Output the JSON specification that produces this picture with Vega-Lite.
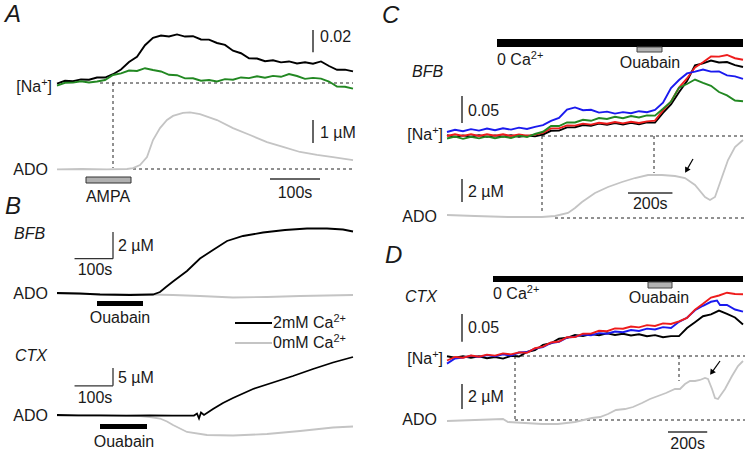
{
"$schema":"https://vega.github.io/schema/vega-lite/v6.json",
"background":"white",
"padding":0,
"spacing":0,
"config":{"view":{"stroke":null},"concat":{"spacing":0},"text":{"font":"Liberation Sans","fontSize":16,"color":"#1a1a1a","baseline":"middle"}},
"hconcat":[
{"vconcat":[
{"width":375,"height":200,"resolve":{"scale":{"y":"independent"}},
"layer":[
{"encoding":{"x":{"field":"t","type":"quantitative","scale":{"domain":[-114,636],"nice":false,"zero":false},"axis":null},"y":{"field":"v","type":"quantitative","scale":{"domain":[-0.1053,0.0747],"nice":false,"zero":false},"axis":null}},
"layer":[
{"data":{"values":[{"t":86,"v":0,"t2":592,"v2":0},{"t":112,"v":0,"t2":112,"v2":-0.0765}]},"mark":{"type":"rule","strokeDash":[3,3],"color":"#222","strokeWidth":1},"encoding":{"x2":{"field":"t2"},"y2":{"field":"v2"}}},
{"data":{"values":[{"t":0,"v":-0.0005},{"t":16,"v":0.002},{"t":32,"v":0.0016},{"t":48,"v":0.0032},{"t":64,"v":0.0029},{"t":80,"v":0.0049},{"t":96,"v":0.0049},{"t":112,"v":0.0079},{"t":128,"v":0.0122},{"t":144,"v":0.0189},{"t":160,"v":0.0236},{"t":176,"v":0.034},{"t":192,"v":0.0407},{"t":208,"v":0.0427},{"t":224,"v":0.0419},{"t":240,"v":0.0437},{"t":256,"v":0.0418},{"t":272,"v":0.0421},{"t":288,"v":0.0392},{"t":304,"v":0.039},{"t":320,"v":0.036},{"t":336,"v":0.0343},{"t":352,"v":0.0291},{"t":368,"v":0.0268},{"t":384,"v":0.0223},{"t":400,"v":0.022},{"t":416,"v":0.0196},{"t":432,"v":0.0205},{"t":448,"v":0.0186},{"t":464,"v":0.0194},{"t":480,"v":0.0176},{"t":496,"v":0.0187},{"t":512,"v":0.0173},{"t":528,"v":0.0194},{"t":544,"v":0.0153},{"t":560,"v":0.0119},{"t":576,"v":0.012},{"t":592,"v":0.0104}]},"mark":{"type":"line","color":"#000000","strokeWidth":1.9}},
{"data":{"values":[{"t":0,"v":-0.0023},{"t":16,"v":0.0002},{"t":32,"v":0.0003},{"t":48,"v":0.0015},{"t":64,"v":0.0004},{"t":80,"v":0.0014},{"t":96,"v":0.0027},{"t":112,"v":0.0072},{"t":128,"v":0.0086},{"t":144,"v":0.0112},{"t":160,"v":0.0108},{"t":176,"v":0.0133},{"t":192,"v":0.0117},{"t":208,"v":0.0104},{"t":224,"v":0.0074},{"t":240,"v":0.007},{"t":256,"v":0.0042},{"t":272,"v":0.0043},{"t":288,"v":0.002},{"t":304,"v":0.0027},{"t":320,"v":0.0014},{"t":336,"v":0.0035},{"t":352,"v":0.003},{"t":368,"v":0.005},{"t":384,"v":0.0044},{"t":400,"v":0.006},{"t":416,"v":0.0048},{"t":432,"v":0.0064},{"t":448,"v":0.0056},{"t":464,"v":0.008},{"t":480,"v":0.0063},{"t":496,"v":0.0037},{"t":512,"v":0.0046},{"t":528,"v":0.0039},{"t":544,"v":0.0013},{"t":560,"v":-0.0032},{"t":576,"v":-0.0034},{"t":592,"v":-0.005}]},"mark":{"type":"line","color":"#228822","strokeWidth":1.9}},
{"data":{"values":[{"t":512,"v":0.0477,"t2":512,"v2":0.0277}]},"mark":{"type":"rule","color":"#333","strokeWidth":1.5},"encoding":{"x2":{"field":"t2"},"y2":{"field":"v2"}}},
{"data":{"values":[{"t":526,"v":0.0414,"label":"0.02"}]},"mark":{"type":"text","align":"left"},"encoding":{"text":{"field":"label"}}},
{"data":{"values":[{"t":-31.6,"v":-0.0036,"label":"[Na"},{"t":-10,"v":-0.0036,"label":"]"}]},"mark":{"type":"text","align":"right"},"encoding":{"text":{"field":"label"}}},
{"data":{"values":[{"t":-18.8,"v":-0.0036,"label":"+"}]},"mark":{"type":"text","align":"right","fontSize":11,"dy":-4},"encoding":{"text":{"field":"label"}}},
{"data":{"values":[{"t":-104,"v":0.0612,"label":"A"}]},"mark":{"type":"text","align":"left","fontSize":24,"fontStyle":"italic"},"encoding":{"text":{"field":"label"}}}
]},
{"encoding":{"x":{"field":"t","type":"quantitative","scale":{"domain":[-114,636],"nice":false,"zero":false},"axis":null},"y":{"field":"v","type":"quantitative","scale":{"domain":[-1.3485,7.3515],"nice":false,"zero":false},"axis":null}},
"layer":[
{"data":{"values":[{"t":152,"v":0,"t2":592,"v2":0}]},"mark":{"type":"rule","strokeDash":[3,3],"color":"#222","strokeWidth":1},"encoding":{"x2":{"field":"t2"},"y2":{"field":"v2"}}},
{"data":{"values":[{"t":0,"v":-0.02},{"t":50,"v":0},{"t":100,"v":-0.02},{"t":140,"v":0},{"t":152,"v":0.04},{"t":166,"v":0.17},{"t":180,"v":0.52},{"t":192,"v":1.26},{"t":206,"v":1.78},{"t":220,"v":2.13},{"t":232,"v":2.31},{"t":252,"v":2.44},{"t":266,"v":2.46},{"t":286,"v":2.39},{"t":320,"v":2.13},{"t":352,"v":1.78},{"t":386,"v":1.48},{"t":420,"v":1.17},{"t":452,"v":0.96},{"t":486,"v":0.74},{"t":520,"v":0.61},{"t":552,"v":0.52},{"t":592,"v":0.39}]},"mark":{"type":"line","color":"#c4c4c4","strokeWidth":1.8}},
{"data":{"values":[{"t":512,"v":2.13,"t2":512,"v2":1.13},{"t":426,"v":-0.435,"t2":526,"v2":-0.435}]},"mark":{"type":"rule","color":"#333","strokeWidth":1.5},"encoding":{"x2":{"field":"t2"},"y2":{"field":"v2"}}},
{"data":{"values":[{"t":58,"t2":148,"v":-0.348,"v2":-0.609}]},"mark":{"type":"rect","fill":"#b0b0b0","stroke":"#333","strokeWidth":1},"encoding":{"x2":{"field":"t2"},"y2":{"field":"v2"}}},
{"data":{"values":[{"t":526,"v":1.566,"label":"1 µM"}]},"mark":{"type":"text","align":"left"},"encoding":{"text":{"field":"label"}}},
{"data":{"values":[{"t":102,"v":-1.218,"label":"AMPA"},{"t":476,"v":-1.044,"label":"100s"}]},"mark":{"type":"text","align":"center"},"encoding":{"text":{"field":"label"}}},
{"data":{"values":[{"t":-18,"v":-0.0435,"label":"ADO"}]},"mark":{"type":"text","align":"right"},"encoding":{"text":{"field":"label"}}}
]}
]},
{"width":375,"height":253,"resolve":{"scale":{"y":"independent"}},
"layer":[
{"encoding":{"x":{"field":"t","type":"quantitative","scale":{"domain":[-148.2,826.8],"nice":false,"zero":false},"axis":null},"y":{"field":"v","type":"quantitative","scale":{"domain":[-11.925,7.05],"nice":false,"zero":false},"axis":null}},
"layer":[
{"data":{"values":[{"t":0,"v":0.0375},{"t":111.8,"v":-0.02},{"t":241.8,"v":-0.0375},{"t":301.6,"v":-0.075},{"t":371.8,"v":-0.15},{"t":457.6,"v":-0.2625},{"t":546,"v":-0.225},{"t":631.8,"v":-0.15},{"t":769.6,"v":-0.075}]},"mark":{"type":"line","color":"#c4c4c4","strokeWidth":1.8}},
{"data":{"values":[{"t":0,"v":0.075},{"t":59.8,"v":0.0375},{"t":111.8,"v":-0.0375},{"t":189.8,"v":-0.075},{"t":249.6,"v":-0.0375},{"t":267.8,"v":0.15},{"t":283.4,"v":0.525},{"t":301.6,"v":0.9375},{"t":338,"v":1.725},{"t":371.8,"v":2.6625},{"t":405.6,"v":3.3},{"t":442,"v":3.975},{"t":483.6,"v":4.35},{"t":535.6,"v":4.6125},{"t":592.8,"v":4.8},{"t":650,"v":4.9125},{"t":702,"v":4.9125},{"t":743.6,"v":4.8375},{"t":769.6,"v":4.6875}]},"mark":{"type":"line","color":"#000000","strokeWidth":1.8}},
{"data":{"values":[{"t":145.6,"v":4.65,"t2":145.6,"v2":2.65},{"t":45.6,"v":2.65,"t2":145.6,"v2":2.65}]},"mark":{"type":"rule","color":"#333","strokeWidth":1.3},"encoding":{"x2":{"field":"t2"},"y2":{"field":"v2"}}},
{"data":{"values":[{"t":462.8,"v":-2.175,"t2":559,"v2":-2.175}]},"mark":{"type":"rule","color":"#000000","strokeWidth":2},"encoding":{"x2":{"field":"t2"},"y2":{"field":"v2"}}},
{"data":{"values":[{"t":462.8,"v":-3.675,"t2":559,"v2":-3.675}]},"mark":{"type":"rule","color":"#c4c4c4","strokeWidth":2},"encoding":{"x2":{"field":"t2"},"y2":{"field":"v2"}}},
{"data":{"values":[{"t":104,"t2":223.6,"v":-0.525,"v2":-0.9}]},"mark":{"type":"rect","fill":"#000000"},"encoding":{"x2":{"field":"t2"},"y2":{"field":"v2"}}},
{"data":{"values":[{"t":158.6,"v":3.6,"label":"2 µM"},{"t":561.6,"v":-2.175,"label":"2mM Ca"},{"t":561.6,"v":-3.675,"label":"0mM Ca"}]},"mark":{"type":"text","align":"left"},"encoding":{"text":{"field":"label"}}},
{"data":{"values":[{"t":718.6,"v":-2.175,"label":"2+"},{"t":718.6,"v":-3.675,"label":"2+"}]},"mark":{"type":"text","align":"left","fontSize":11,"dy":-4},"encoding":{"text":{"field":"label"}}},
{"data":{"values":[{"t":98.8,"v":1.8,"label":"100s"},{"t":163.8,"v":-1.8,"label":"Ouabain"}]},"mark":{"type":"text","align":"center"},"encoding":{"text":{"field":"label"}}},
{"data":{"values":[{"t":-23.4,"v":0,"label":"ADO"}]},"mark":{"type":"text","align":"right"},"encoding":{"text":{"field":"label"}}},
{"data":{"values":[{"t":-111.8,"v":4.5,"label":"BFB"}]},"mark":{"type":"text","align":"left","fontStyle":"italic"},"encoding":{"text":{"field":"label"}}},
{"data":{"values":[{"t":-135.2,"v":6.525,"label":"B"}]},"mark":{"type":"text","align":"left","fontSize":24,"fontStyle":"italic"},"encoding":{"text":{"field":"label"}}}
]},
{"encoding":{"x":{"field":"t","type":"quantitative","scale":{"domain":[-148.2,826.8],"nice":false,"zero":false},"axis":null},"y":{"field":"v","type":"quantitative","scale":{"domain":[-10.64,60.2],"nice":false,"zero":false},"axis":null}},
"layer":[
{"data":{"values":[{"t":0,"v":-0.14},{"t":215.8,"v":-0.28},{"t":241.8,"v":-0.56},{"t":267.8,"v":-0.98},{"t":286,"v":-1.82},{"t":301.6,"v":-2.8},{"t":338,"v":-4.76},{"t":390,"v":-5.6},{"t":457.6,"v":-5.74},{"t":546,"v":-5.32},{"t":631.8,"v":-4.48},{"t":717.6,"v":-3.5},{"t":769.6,"v":-3.22}]},"mark":{"type":"line","color":"#c4c4c4","strokeWidth":1.8}},
{"data":{"values":[{"t":0,"v":0},{"t":55,"v":-0.1},{"t":111.8,"v":-0.084},{"t":180,"v":-0.2},{"t":241.8,"v":-0.14},{"t":300,"v":-0.2},{"t":356.2,"v":-0.14},{"t":364,"v":0.42},{"t":369.2,"v":-0.98},{"t":374.4,"v":0.7},{"t":382.2,"v":0},{"t":405.6,"v":1.68},{"t":431.6,"v":3.36},{"t":457.6,"v":4.76},{"t":509.6,"v":7.28},{"t":561.6,"v":9.1},{"t":613.6,"v":10.92},{"t":665.6,"v":12.88},{"t":717.6,"v":14.7},{"t":769.6,"v":16.24}]},"mark":{"type":"line","color":"#000000","strokeWidth":1.8}},
{"data":{"values":[{"t":145.6,"v":13.16,"t2":145.6,"v2":8.16},{"t":45.6,"v":8.16,"t2":145.6,"v2":8.16}]},"mark":{"type":"rule","color":"#333","strokeWidth":1.3},"encoding":{"x2":{"field":"t2"},"y2":{"field":"v2"}}},
{"data":{"values":[{"t":111.8,"t2":234,"v":-2.52,"v2":-3.92}]},"mark":{"type":"rect","fill":"#000000"},"encoding":{"x2":{"field":"t2"},"y2":{"field":"v2"}}},
{"data":{"values":[{"t":158.6,"v":10.36,"label":"5 µM"}]},"mark":{"type":"text","align":"left"},"encoding":{"text":{"field":"label"}}},
{"data":{"values":[{"t":98.8,"v":4.76,"label":"100s"},{"t":174.2,"v":-7.56,"label":"Ouabain"}]},"mark":{"type":"text","align":"center"},"encoding":{"text":{"field":"label"}}},
{"data":{"values":[{"t":-23.4,"v":-0.28,"label":"ADO"}]},"mark":{"type":"text","align":"right"},"encoding":{"text":{"field":"label"}}},
{"data":{"values":[{"t":-109.2,"v":16.52,"label":"CTX"}]},"mark":{"type":"text","align":"left","fontStyle":"italic"},"encoding":{"text":{"field":"label"}}}
]}
]}
],"spacing":0,"bounds":"flush"},
{"vconcat":[
{"width":375,"height":226,"resolve":{"scale":{"y":"independent"}},
"layer":[
{"encoding":{"x":{"field":"t","type":"quantitative","scale":{"domain":[-324,1363.5],"nice":false,"zero":false},"axis":null},"y":{"field":"v","type":"quantitative","scale":{"domain":[-0.1665,0.2516],"nice":false,"zero":false},"axis":null}},
"layer":[
{"data":{"values":[{"t":427.5,"v":0,"t2":1341,"v2":0},{"t":427.5,"v":0,"t2":427.5,"v2":-0.1406},{"t":931.5,"v":0,"t2":931.5,"v2":-0.0685}]},"mark":{"type":"rule","strokeDash":[3,3],"color":"#222","strokeWidth":1},"encoding":{"x2":{"field":"t2"},"y2":{"field":"v2"}}},
{"data":{"values":[{"t":0,"v":0.0015},{"t":36,"v":-0.0015},{"t":72,"v":0.0011},{"t":108,"v":-0.0011},{"t":144,"v":0.0015},{"t":180,"v":-0.0015},{"t":216,"v":0.0011},{"t":252,"v":-0.0011},{"t":288,"v":0.0015},{"t":324,"v":-0.0015},{"t":360,"v":0.0007},{"t":396,"v":-0.0007},{"t":432,"v":0.0028},{"t":468,"v":0.0096},{"t":504,"v":0.01},{"t":540,"v":0.0159},{"t":576,"v":0.0163},{"t":612,"v":0.0204},{"t":648,"v":0.0189},{"t":684,"v":0.0229},{"t":720,"v":0.0207},{"t":756,"v":0.0241},{"t":792,"v":0.0213},{"t":828,"v":0.0244},{"t":864,"v":0.0218},{"t":900,"v":0.0252},{"t":936,"v":0.0248},{"t":972,"v":0.0426},{"t":1008,"v":0.0583},{"t":1044,"v":0.081},{"t":1080,"v":0.1018},{"t":1116,"v":0.1308},{"t":1152,"v":0.1343},{"t":1188,"v":0.1397},{"t":1224,"v":0.136},{"t":1260,"v":0.1369},{"t":1296,"v":0.131},{"t":1332,"v":0.1277}]},"mark":{"type":"line","color":"#000000","strokeWidth":1.9}},
{"data":{"values":[{"t":0,"v":0},{"t":36,"v":0.0033},{"t":72,"v":0.0002},{"t":108,"v":0.0035},{"t":144,"v":0},{"t":180,"v":0.0031},{"t":216,"v":0.0004},{"t":252,"v":0.0033},{"t":288,"v":0},{"t":324,"v":0.003},{"t":360,"v":0.0004},{"t":396,"v":0.0026},{"t":432,"v":0.0059},{"t":468,"v":0.0141},{"t":504,"v":0.0141},{"t":540,"v":0.0196},{"t":576,"v":0.0192},{"t":612,"v":0.0229},{"t":648,"v":0.0211},{"t":684,"v":0.0244},{"t":720,"v":0.0228},{"t":756,"v":0.0259},{"t":792,"v":0.0233},{"t":828,"v":0.0263},{"t":864,"v":0.0241},{"t":900,"v":0.027},{"t":936,"v":0.0285},{"t":972,"v":0.0472},{"t":1008,"v":0.0638},{"t":1044,"v":0.0894},{"t":1080,"v":0.1064},{"t":1116,"v":0.1267},{"t":1152,"v":0.1365},{"t":1188,"v":0.1471},{"t":1224,"v":0.1469},{"t":1260,"v":0.1499},{"t":1296,"v":0.1439},{"t":1332,"v":0.141}]},"mark":{"type":"line","color":"#ee1c1c","strokeWidth":1.9}},
{"data":{"values":[{"t":0,"v":0.0074},{"t":36,"v":0.0115},{"t":72,"v":0.0089},{"t":108,"v":0.0126},{"t":144,"v":0.01},{"t":180,"v":0.0137},{"t":216,"v":0.0107},{"t":252,"v":0.0144},{"t":288,"v":0.0118},{"t":324,"v":0.0155},{"t":360,"v":0.013},{"t":396,"v":0.017},{"t":432,"v":0.02},{"t":468,"v":0.0278},{"t":504,"v":0.0333},{"t":540,"v":0.0488},{"t":576,"v":0.0529},{"t":612,"v":0.0477},{"t":648,"v":0.0485},{"t":684,"v":0.0433},{"t":720,"v":0.0451},{"t":756,"v":0.0414},{"t":792,"v":0.0442},{"t":828,"v":0.0422},{"t":864,"v":0.0459},{"t":900,"v":0.044},{"t":936,"v":0.0481},{"t":972,"v":0.0618},{"t":1008,"v":0.0888},{"t":1044,"v":0.1036},{"t":1080,"v":0.1158},{"t":1116,"v":0.1191},{"t":1152,"v":0.123},{"t":1188,"v":0.1191},{"t":1224,"v":0.1195},{"t":1260,"v":0.1121},{"t":1296,"v":0.1103},{"t":1332,"v":0.1058}]},"mark":{"type":"line","color":"#1a1aee","strokeWidth":1.9}},
{"data":{"values":[{"t":0,"v":-0.0046},{"t":36,"v":-0.0009},{"t":72,"v":-0.0052},{"t":108,"v":-0.0015},{"t":144,"v":-0.0044},{"t":180,"v":-0.0007},{"t":216,"v":-0.0041},{"t":252,"v":-0.0011},{"t":288,"v":-0.0037},{"t":324,"v":0.0007},{"t":360,"v":-0.0019},{"t":396,"v":0.0037},{"t":432,"v":0.0078},{"t":468,"v":0.0185},{"t":504,"v":0.0185},{"t":540,"v":0.0252},{"t":576,"v":0.025},{"t":612,"v":0.03},{"t":648,"v":0.0281},{"t":684,"v":0.0333},{"t":720,"v":0.0315},{"t":756,"v":0.0355},{"t":792,"v":0.0329},{"t":828,"v":0.037},{"t":864,"v":0.0342},{"t":900,"v":0.0381},{"t":936,"v":0.0377},{"t":972,"v":0.0503},{"t":1008,"v":0.0636},{"t":1044,"v":0.0895},{"t":1080,"v":0.0962},{"t":1116,"v":0.1045},{"t":1152,"v":0.0984},{"t":1188,"v":0.0929},{"t":1224,"v":0.0814},{"t":1260,"v":0.0751},{"t":1296,"v":0.0657},{"t":1332,"v":0.0644}]},"mark":{"type":"line","color":"#228822","strokeWidth":1.9}},
{"data":{"values":[{"t":225,"t2":1332,"v":0.1795,"v2":0.1647}]},"mark":{"type":"rect","fill":"#000000"},"encoding":{"x2":{"field":"t2"},"y2":{"field":"v2"}}},
{"data":{"values":[{"t":855,"t2":967.5,"v":0.1647,"v2":0.1554}]},"mark":{"type":"rect","fill":"#b3b3b3","stroke":"#444","strokeWidth":1},"encoding":{"x2":{"field":"t2"},"y2":{"field":"v2"}}},
{"data":{"values":[{"t":67.5,"v":0.074,"t2":67.5,"v2":0.024}]},"mark":{"type":"rule","color":"#333","strokeWidth":1.5},"encoding":{"x2":{"field":"t2"},"y2":{"field":"v2"}}},
{"data":{"values":[{"t":225,"v":0.1406,"label":"0 Ca"},{"t":94.5,"v":0.0463,"label":"0.05"}]},"mark":{"type":"text","align":"left"},"encoding":{"text":{"field":"label"}}},
{"data":{"values":[{"t":377.1,"v":0.1406,"label":"2+"}]},"mark":{"type":"text","align":"left","fontSize":11,"dy":-4},"encoding":{"text":{"field":"label"}}},
{"data":{"values":[{"t":913.5,"v":0.1351,"label":"Ouabain"}]},"mark":{"type":"text","align":"center"},"encoding":{"text":{"field":"label"}}},
{"data":{"values":[{"t":-66.6,"v":0.0019,"label":"[Na"},{"t":-18,"v":0.0019,"label":"]"}]},"mark":{"type":"text","align":"right"},"encoding":{"text":{"field":"label"}}},
{"data":{"values":[{"t":-37.8,"v":0.0019,"label":"+"}]},"mark":{"type":"text","align":"right","fontSize":11,"dy":-4},"encoding":{"text":{"field":"label"}}},
{"data":{"values":[{"t":-157.5,"v":0.1184,"label":"BFB"}]},"mark":{"type":"text","align":"left","fontStyle":"italic"},"encoding":{"text":{"field":"label"}}},
{"data":{"values":[{"t":-292.5,"v":0.222,"label":"C"}]},"mark":{"type":"text","align":"left","fontSize":24,"fontStyle":"italic"},"encoding":{"text":{"field":"label"}}}
]},
{"encoding":{"x":{"field":"t","type":"quantitative","scale":{"domain":[-324,1363.5],"nice":false,"zero":false},"axis":null},"y":{"field":"v","type":"quantitative","scale":{"domain":[-0.696,18.966],"nice":false,"zero":false},"axis":null}},
"layer":[
{"data":{"values":[{"t":486,"v":0,"t2":1341,"v2":0}]},"mark":{"type":"rule","strokeDash":[3,3],"color":"#222","strokeWidth":1},"encoding":{"x2":{"field":"t2"},"y2":{"field":"v2"}}},
{"data":{"values":[{"t":0,"v":0.261},{"t":126,"v":0.174},{"t":274.5,"v":0.087},{"t":427.5,"v":0.087},{"t":486,"v":0.174},{"t":544.5,"v":0.435},{"t":576,"v":0.87},{"t":607.5,"v":1.392},{"t":666,"v":2.175},{"t":724.5,"v":2.697},{"t":787.5,"v":3.132},{"t":846,"v":3.48},{"t":904.5,"v":3.741},{"t":967.5,"v":3.741},{"t":1026,"v":3.654},{"t":1071,"v":3.48},{"t":1116,"v":2.871},{"t":1161,"v":1.827},{"t":1183.5,"v":1.566},{"t":1206,"v":1.827},{"t":1237.5,"v":3.567},{"t":1264.5,"v":5.046},{"t":1296,"v":6.177},{"t":1332,"v":6.786}]},"mark":{"type":"line","color":"#c4c4c4","strokeWidth":1.8}},
{"data":{"values":[{"t":67.5,"v":3.393,"t2":67.5,"v2":1.393},{"t":814.5,"v":2.175,"t2":1014.5,"v2":2.175}]},"mark":{"type":"rule","color":"#333","strokeWidth":1.5},"encoding":{"x2":{"field":"t2"},"y2":{"field":"v2"}}},
{"data":{"values":[{"t":1107,"v":5.133,"t2":1077.75,"v2":4.141}]},"mark":{"type":"rule","color":"#000","strokeWidth":1.2},"encoding":{"x2":{"field":"t2"},"y2":{"field":"v2"}}},
{"data":{"values":[{"t":1077.75,"v":4.141}]},"mark":{"type":"point","shape":"triangle-down","filled":true,"color":"#000","opacity":1,"size":40,"angle":30}},
{"data":{"values":[{"t":94.5,"v":2.262,"label":"2 µM"}]},"mark":{"type":"text","align":"left"},"encoding":{"text":{"field":"label"}}},
{"data":{"values":[{"t":914.5,"v":1.218,"label":"200s"}]},"mark":{"type":"text","align":"center"},"encoding":{"text":{"field":"label"}}},
{"data":{"values":[{"t":-45,"v":0.087,"label":"ADO"}]},"mark":{"type":"text","align":"right"},"encoding":{"text":{"field":"label"}}}
]}
]},
{"width":375,"height":227,"resolve":{"scale":{"y":"independent"}},
"layer":[
{"encoding":{"x":{"field":"t","type":"quantitative","scale":{"domain":[-367.2,1545.3],"nice":false,"zero":false},"axis":null},"y":{"field":"v","type":"quantitative","scale":{"domain":[-0.1746,0.234],"nice":false,"zero":false},"axis":null}},
"layer":[
{"data":{"values":[{"t":346.8,"v":0,"t2":1519.8,"v2":0},{"t":346.8,"v":0,"t2":346.8,"v2":-0.1152},{"t":1183.2,"v":0,"t2":1183.2,"v2":-0.045}]},"mark":{"type":"rule","strokeDash":[3,3],"color":"#222","strokeWidth":1},"encoding":{"x2":{"field":"t2"},"y2":{"field":"v2"}}},
{"data":{"values":[{"t":0,"v":-0.0005},{"t":40.8,"v":-0.0032},{"t":81.6,"v":-0.0004},{"t":122.4,"v":-0.0032},{"t":163.2,"v":-0.0005},{"t":204,"v":-0.0041},{"t":244.8,"v":-0.0018},{"t":285.6,"v":-0.0047},{"t":326.4,"v":0.0002},{"t":367.2,"v":-0.0009},{"t":408,"v":0.0072},{"t":448.8,"v":0.0104},{"t":489.6,"v":0.0202},{"t":530.4,"v":0.0229},{"t":571.2,"v":0.031},{"t":612,"v":0.0328},{"t":652.8,"v":0.0378},{"t":693.6,"v":0.0358},{"t":734.4,"v":0.0394},{"t":775.2,"v":0.0373},{"t":816,"v":0.041},{"t":856.8,"v":0.0378},{"t":897.6,"v":0.0401},{"t":938.4,"v":0.0369},{"t":979.2,"v":0.0392},{"t":1020,"v":0.0356},{"t":1060.8,"v":0.0376},{"t":1101.6,"v":0.0338},{"t":1142.4,"v":0.0358},{"t":1183.2,"v":0.0358},{"t":1224,"v":0.0504},{"t":1264.8,"v":0.0608},{"t":1305.6,"v":0.0716},{"t":1346.4,"v":0.0749},{"t":1387.2,"v":0.0817},{"t":1428,"v":0.076},{"t":1468.8,"v":0.0693},{"t":1509.6,"v":0.0567}]},"mark":{"type":"line","color":"#000000","strokeWidth":1.9}},
{"data":{"values":[{"t":0,"v":-0.0137},{"t":40.8,"v":-0.0045},{"t":81.6,"v":-0.0029},{"t":122.4,"v":0.0005},{"t":163.2,"v":-0.0018},{"t":204,"v":0.0016},{"t":244.8,"v":-0.0007},{"t":285.6,"v":0.0031},{"t":326.4,"v":0.0007},{"t":367.2,"v":0.0063},{"t":408,"v":0.0072},{"t":448.8,"v":0.0133},{"t":489.6,"v":0.0162},{"t":530.4,"v":0.0234},{"t":571.2,"v":0.0256},{"t":612,"v":0.0331},{"t":652.8,"v":0.0346},{"t":693.6,"v":0.0387},{"t":734.4,"v":0.0371},{"t":775.2,"v":0.0412},{"t":816,"v":0.04},{"t":856.8,"v":0.0441},{"t":897.6,"v":0.0427},{"t":938.4,"v":0.0468},{"t":979.2,"v":0.045},{"t":1020,"v":0.0493},{"t":1060.8,"v":0.0477},{"t":1101.6,"v":0.052},{"t":1142.4,"v":0.0504},{"t":1183.2,"v":0.0616},{"t":1224,"v":0.0688},{"t":1264.8,"v":0.0824},{"t":1305.6,"v":0.0904},{"t":1346.4,"v":0.0976},{"t":1377,"v":0.0999},{"t":1392.3,"v":0.0918},{"t":1428,"v":0.0918},{"t":1468.8,"v":0.0837},{"t":1509.6,"v":0.0799}]},"mark":{"type":"line","color":"#1a1aee","strokeWidth":1.9}},
{"data":{"values":[{"t":0,"v":-0.0081},{"t":40.8,"v":-0.0018},{"t":81.6,"v":-0.0032},{"t":122.4,"v":0.0009},{"t":163.2,"v":-0.0014},{"t":204,"v":0.0025},{"t":244.8,"v":0.0007},{"t":285.6,"v":0.0047},{"t":326.4,"v":0.0029},{"t":367.2,"v":0.0065},{"t":408,"v":0.0058},{"t":448.8,"v":0.014},{"t":489.6,"v":0.0169},{"t":530.4,"v":0.0243},{"t":571.2,"v":0.0261},{"t":612,"v":0.0338},{"t":652.8,"v":0.034},{"t":693.6,"v":0.0401},{"t":734.4,"v":0.0403},{"t":775.2,"v":0.0454},{"t":816,"v":0.0446},{"t":856.8,"v":0.0497},{"t":897.6,"v":0.049},{"t":938.4,"v":0.0531},{"t":979.2,"v":0.0515},{"t":1020,"v":0.0556},{"t":1060.8,"v":0.054},{"t":1101.6,"v":0.0587},{"t":1142.4,"v":0.0576},{"t":1183.2,"v":0.0625},{"t":1224,"v":0.0686},{"t":1264.8,"v":0.0835},{"t":1305.6,"v":0.094},{"t":1346.4,"v":0.1051},{"t":1387.2,"v":0.1089},{"t":1428,"v":0.1139},{"t":1468.8,"v":0.1116},{"t":1509.6,"v":0.1111}]},"mark":{"type":"line","color":"#ee1c1c","strokeWidth":1.9}},
{"data":{"values":[{"t":234.6,"t2":1509.6,"v":0.144,"v2":0.1332}]},"mark":{"type":"rect","fill":"#000000"},"encoding":{"x2":{"field":"t2"},"y2":{"field":"v2"}}},
{"data":{"values":[{"t":1025.1,"t2":1147.5,"v":0.1332,"v2":0.1224}]},"mark":{"type":"rect","fill":"#b3b3b3","stroke":"#444","strokeWidth":1},"encoding":{"x2":{"field":"t2"},"y2":{"field":"v2"}}},
{"data":{"values":[{"t":76.5,"v":0.0756,"t2":76.5,"v2":0.0256}]},"mark":{"type":"rule","color":"#333","strokeWidth":1.5},"encoding":{"x2":{"field":"t2"},"y2":{"field":"v2"}}},
{"data":{"values":[{"t":234.6,"v":0.1116,"label":"0 Ca"},{"t":107.1,"v":0.0504,"label":"0.05"}]},"mark":{"type":"text","align":"left"},"encoding":{"text":{"field":"label"}}},
{"data":{"values":[{"t":407,"v":0.1116,"label":"2+"}]},"mark":{"type":"text","align":"left","fontSize":11,"dy":-4},"encoding":{"text":{"field":"label"}}},
{"data":{"values":[{"t":1081.2,"v":0.1044,"label":"Ouabain"}]},"mark":{"type":"text","align":"center"},"encoding":{"text":{"field":"label"}}},
{"data":{"values":[{"t":-75.48,"v":-0.0054,"label":"[Na"},{"t":-20.4,"v":-0.0054,"label":"]"}]},"mark":{"type":"text","align":"right"},"encoding":{"text":{"field":"label"}}},
{"data":{"values":[{"t":-42.84,"v":-0.0054,"label":"+"}]},"mark":{"type":"text","align":"right","fontSize":11,"dy":-4},"encoding":{"text":{"field":"label"}}},
{"data":{"values":[{"t":-214.2,"v":0.1062,"label":"CTX"}]},"mark":{"type":"text","align":"left","fontStyle":"italic"},"encoding":{"text":{"field":"label"}}},
{"data":{"values":[{"t":-316.2,"v":0.18,"label":"D"}]},"mark":{"type":"text","align":"left","fontSize":24,"fontStyle":"italic"},"encoding":{"text":{"field":"label"}}}
]},
{"encoding":{"x":{"field":"t","type":"quantitative","scale":{"domain":[-367.2,1545.3],"nice":false,"zero":false},"axis":null},"y":{"field":"v","type":"quantitative","scale":{"domain":[-2.64,15.52],"nice":false,"zero":false},"axis":null}},
"layer":[
{"data":{"values":[{"t":346.8,"v":0,"t2":1519.8,"v2":0}]},"mark":{"type":"rule","strokeDash":[3,3],"color":"#222","strokeWidth":1},"encoding":{"x2":{"field":"t2"},"y2":{"field":"v2"}}},
{"data":{"values":[{"t":0,"v":-0.08},{"t":142.8,"v":0},{"t":285.6,"v":0.08},{"t":311.1,"v":-0.16},{"t":397.8,"v":-0.24},{"t":484.5,"v":-0.32},{"t":566.1,"v":-0.32},{"t":652.8,"v":-0.16},{"t":739.5,"v":0.16},{"t":780.3,"v":0.24},{"t":821.1,"v":0.48},{"t":861.9,"v":0.8},{"t":907.8,"v":0.88},{"t":948.6,"v":1.04},{"t":994.5,"v":1.36},{"t":1035.3,"v":1.68},{"t":1076.1,"v":1.92},{"t":1116.9,"v":2.16},{"t":1162.8,"v":2.48},{"t":1188.3,"v":2.48},{"t":1213.8,"v":2.88},{"t":1239.3,"v":3.12},{"t":1264.8,"v":3.12},{"t":1290.3,"v":3.2},{"t":1315.8,"v":3.36},{"t":1331.1,"v":3.28},{"t":1351.5,"v":2.48},{"t":1366.8,"v":1.76},{"t":1382.1,"v":1.68},{"t":1417.8,"v":2.48},{"t":1453.5,"v":3.52},{"t":1484.1,"v":4.32},{"t":1509.6,"v":4.72}]},"mark":{"type":"line","color":"#c4c4c4","strokeWidth":1.8}},
{"data":{"values":[{"t":76.5,"v":2.88,"t2":76.5,"v2":0.88},{"t":1127.1,"v":-0.96,"t2":1327.1,"v2":-0.96}]},"mark":{"type":"rule","color":"#333","strokeWidth":1.5},"encoding":{"x2":{"field":"t2"},"y2":{"field":"v2"}}},
{"data":{"values":[{"t":1392.3,"v":4.72,"t2":1349.97,"v2":3.792}]},"mark":{"type":"rule","color":"#000","strokeWidth":1.2},"encoding":{"x2":{"field":"t2"},"y2":{"field":"v2"}}},
{"data":{"values":[{"t":1349.97,"v":3.792}]},"mark":{"type":"point","shape":"triangle-down","filled":true,"color":"#000","opacity":1,"size":40,"angle":35}},
{"data":{"values":[{"t":107.1,"v":1.84,"label":"2 µM"}]},"mark":{"type":"text","align":"left"},"encoding":{"text":{"field":"label"}}},
{"data":{"values":[{"t":1227.1,"v":-1.92,"label":"200s"}]},"mark":{"type":"text","align":"center"},"encoding":{"text":{"field":"label"}}},
{"data":{"values":[{"t":-51,"v":0,"label":"ADO"}]},"mark":{"type":"text","align":"right"},"encoding":{"text":{"field":"label"}}}
]}
]}
],"spacing":0,"bounds":"flush"}
]
}
